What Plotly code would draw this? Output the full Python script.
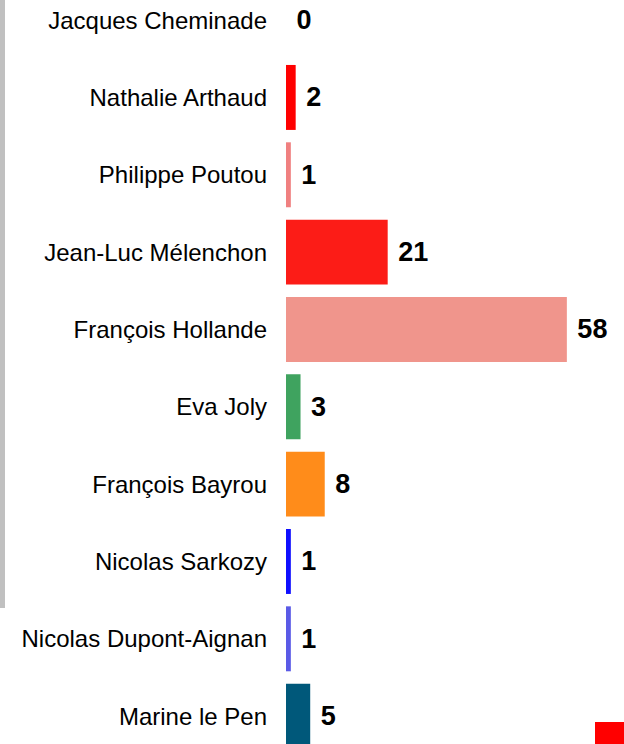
import plotly.graph_objects as go

candidates = ["Jacques Cheminade", "Nathalie Arthaud", "Philippe Poutou", "Jean-Luc Mélenchon",
              "François Hollande", "Eva Joly", "François Bayrou", "Nicolas Sarkozy",
              "Nicolas Dupont-Aignan", "Marine le Pen"]
values = [0, 2, 1, 21, 58, 3, 8, 1, 1, 5]
colors = ["#ff0000", "#ff0000", "#f08080", "#fc1c17", "#f0958c", "#3fa35f", "#ff8c1a",
          "#1010ff", "#5a5ae6", "#00587a"]

W, H = 624, 744
L = 286
fig = go.Figure()
fig.add_trace(go.Bar(
    y=candidates, x=values, orientation="h",
    marker=dict(color=colors, line=dict(width=0)),
    text=values, texttemplate=" %{text}", textposition="outside", cliponaxis=False,
    textfont=dict(family="Liberation Sans, Arial", size=27, color="black", weight="bold"),
    hoverinfo="skip",
))

pw = W - L
def px_x(p):
    return (p - L) / pw
def px_y(p):
    return 1 - p / H

fig.update_layout(
    width=W, height=H,
    margin=dict(l=L, r=0, t=0, b=0),
    paper_bgcolor="white", plot_bgcolor="white",
    showlegend=False, bargap=0.16,
    font=dict(family="Liberation Sans, Arial", color="black"),
    xaxis=dict(range=[0, 69.8], visible=False, showgrid=False, zeroline=False),
    yaxis=dict(range=[9.36, -0.26], showgrid=False, zeroline=False, showline=False,
               ticks="", ticklabelstandoff=18,
               tickfont=dict(family="Liberation Sans, Arial", size=24, color="black")),
    shapes=[
        dict(type="rect", xref="paper", yref="paper", x0=px_x(0), x1=px_x(5),
             y0=px_y(608), y1=px_y(0), fillcolor="#c0c0c0", line=dict(width=0), layer="above"),
        dict(type="rect", xref="paper", yref="paper", x0=px_x(595), x1=px_x(624),
             y0=px_y(744), y1=px_y(722), fillcolor="#ff0000", line=dict(width=0), layer="above"),
    ],
)
fig.write_html("out.html", config={"displayModeBar": False},
               post_script="document.body.style.margin='0';document.body.style.overflow='hidden';")
